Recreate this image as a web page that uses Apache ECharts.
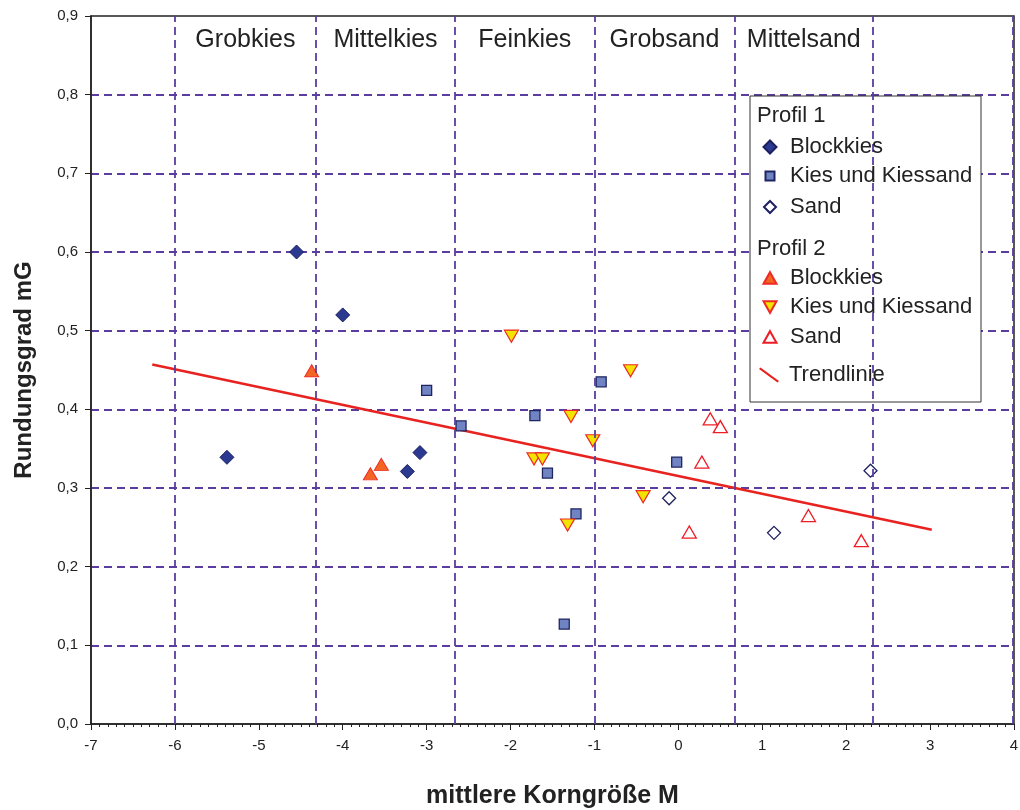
<!DOCTYPE html>
<html>
<head>
<meta charset="utf-8">
<script src="https://cdn.jsdelivr.net/npm/echarts@6/dist/echarts.min.js"></script>
<style>
html,body{margin:0;padding:0;background:#fff;}
#chart{width:1020px;height:810px;}
</style>
</head>
<body>
<div id="chart"></div>
<script>
// ---- data ----
const xTicks = [-7,-6,-5,-4,-3,-2,-1,0,1,2,3,4];
const yTicks = [0,0.1,0.2,0.3,0.4,0.5,0.6,0.7,0.8,0.9];
const zoneNames = ['Grobkies','Mittelkies','Feinkies','Grobsand','Mittelsand'];
const zoneBounds = [-6,-4.32,-2.66,-1,0.67,2.32,3.99];

const p1Blockkies = [[-4.55,0.60],[-4.00,0.52],[-5.38,0.339],[-3.08,0.345],[-3.23,0.321]];
const p1Kies = [[-3.00,0.424],[-2.59,0.379],[-1.71,0.392],[-0.92,0.435],[-1.56,0.319],[-1.22,0.267],[-1.36,0.127],[-0.02,0.333]];
const p1Sand = [[-0.11,0.287],[1.14,0.243],[2.29,0.322]];
const p2Blockkies = [[-4.37,0.449],[-3.54,0.330],[-3.67,0.318]];
const p2Kies = [[-1.99,0.493],[-0.57,0.449],[-1.28,0.391],[-1.02,0.360],[-1.72,0.337],[-1.62,0.337],[-0.42,0.289],[-1.32,0.253]];
const p2Sand = [[0.38,0.388],[0.50,0.378],[0.28,0.333],[0.13,0.244],[1.55,0.265],[2.18,0.233]];
const trend = [[-6.27,0.457],[3.02,0.247]];

const FONT = '"Liberation Sans", Arial, Helvetica, sans-serif';
const GRID = '#5B3DA0';
const DASH = [8,5];
const INV_TRI = 'path://M0,0 L10,0 L5,9 Z';
const TRI = 'path://M5,0 L10,9 L0,9 Z';

const chart = echarts.init(document.getElementById('chart'), null, {renderer:'canvas'});

// legend item: icon centred at x=769, text starting at x=790
function legendItem(name, cy, w, h, extra) {
  const left = 769 - w/2;
  const pad = 789 - (left + w + 5);
  return Object.assign({
    data: [name], left: left, top: cy - 11, padding: 0,
    itemWidth: w, itemHeight: h, selectedMode: false, z: 6,
    formatter: n => n.split(' | ')[1],
    textStyle: {fontFamily: FONT, fontSize: 22, color: '#222', lineHeight: 22, padding: [0, 0, 0, pad]}
  }, extra || {});
}

const option = {
  animation: false,
  backgroundColor: '#fff',
  grid: {left: 91, right: 6, top: 16, bottom: 86, containLabel: false, outerBoundsMode: 'none',
         show: true, borderColor: '#222', borderWidth: 1.5, backgroundColor: 'transparent'},
  xAxis: {
    type: 'value', min: xTicks[0], max: xTicks[xTicks.length-1], interval: 1,
    name: 'mittlere Korngröße M', nameLocation: 'middle', nameGap: 60,
    nameTextStyle: {fontFamily: FONT, fontSize: 25, fontWeight: 'bold', color: '#222'},
    axisLine: {show: true, onZero: false, lineStyle: {color: '#222', width: 1.5}},
    axisTick: {show: true, length: 6, lineStyle: {color: '#222'}},
    minorTick: {show: true, splitNumber: 10, length: 3, lineStyle: {color: '#222'}},
    axisLabel: {fontFamily: FONT, fontSize: 15, color: '#222', margin: 14, formatter: v => String(v)},
    splitLine: {show: false}
  },
  yAxis: {
    type: 'value', min: yTicks[0], max: yTicks[yTicks.length-1], interval: 0.1,
    name: 'Rundungsgrad mG', nameLocation: 'middle', nameGap: 55,
    nameTextStyle: {fontFamily: FONT, fontSize: 24, fontWeight: 'bold', color: '#222'},
    axisLine: {show: true, onZero: false, lineStyle: {color: '#222', width: 1.5}},
    axisTick: {show: true, length: 6, lineStyle: {color: '#222'}},
    axisLabel: {fontFamily: FONT, fontSize: 15, color: '#222', margin: 13, formatter: v => v.toFixed(1).replace('.', ',')},
    splitLine: {show: true, showMinLine: false, showMaxLine: false, lineStyle: {color: GRID, type: DASH, width: 1.8}}
  },
  legend: [
    legendItem('P1 | Blockkies', 147, 13, 13),
    legendItem('P1 | Kies und Kiessand', 176, 9, 9),
    legendItem('P1 | Sand', 207, 12, 12),
    legendItem('P2 | Blockkies', 278, 13, 12),
    legendItem('P2 | Kies und Kiessand', 307, 13, 12),
    legendItem('P2 | Sand', 337, 13, 12),
    legendItem('Trendlinie', 375, 20, 15, {formatter: n => n, icon: 'path://M0,1.5 L1.5,0 L20,13.5 L18.5,15 Z'})
  ],
  graphic: [
    {type: 'rect', z: 5, shape: {x: 750, y: 96, width: 231, height: 306}, style: {fill: '#fff', stroke: '#333', lineWidth: 1}},
    {type: 'text', z: 6, style: {x: 757, y: 116, text: 'Profil 1', fill: '#222', font: '22px ' + FONT, verticalAlign: 'middle', align: 'left'}},
    {type: 'text', z: 6, style: {x: 757, y: 249, text: 'Profil 2', fill: '#222', font: '22px ' + FONT, verticalAlign: 'middle', align: 'left'}}
  ],
  series: [
    {
      name: 'zones', type: 'scatter', data: [], silent: true,
      markArea: {
        silent: true,
        itemStyle: {color: 'rgba(0,0,0,0)'},
        label: {show: true, position: 'insideTop', distance: 12, fontFamily: FONT, fontSize: 25, color: '#222'},
        data: zoneNames.map((n, i) => [{name: n, xAxis: zoneBounds[i]}, {xAxis: zoneBounds[i+1]}])
      },
      markLine: {
        silent: true, symbol: 'none', label: {show: false},
        lineStyle: {color: GRID, type: DASH, width: 1.8},
        data: zoneBounds.map(v => ({xAxis: v}))
      }
    },
    {
      name: 'Trendlinie', type: 'line', data: trend, showSymbol: false, symbol: 'none', z: 3,
      color: '#E8221E', lineStyle: {color: '#E8221E', width: 2.5}, itemStyle: {color: '#E8221E'}
    },
    {
      name: 'P1 | Blockkies', type: 'scatter', data: p1Blockkies, symbol: 'diamond', symbolSize: 14, z: 4,
      itemStyle: {color: '#2B3990', borderColor: '#1B1F5E', borderWidth: 1, opacity: 1}
    },
    {
      name: 'P1 | Kies und Kiessand', type: 'scatter', data: p1Kies, symbol: 'rect', symbolSize: 10, z: 4,
      itemStyle: {color: '#7084C4', borderColor: '#1E2560', borderWidth: 1.3, opacity: 1}
    },
    {
      name: 'P1 | Sand', type: 'scatter', data: p1Sand, symbol: 'diamond', symbolSize: 13, z: 4,
      itemStyle: {color: '#ffffff', borderColor: '#1E2060', borderWidth: 1.3, opacity: 1}
    },
    {
      name: 'P2 | Blockkies', type: 'scatter', data: p2Blockkies, symbol: TRI, symbolSize: [14, 12], z: 4,
      itemStyle: {color: '#F26522', borderColor: '#EE2A24', borderWidth: 1, opacity: 1}
    },
    {
      name: 'P2 | Kies und Kiessand', type: 'scatter', data: p2Kies, symbol: INV_TRI, symbolSize: [14, 12], z: 4,
      itemStyle: {color: '#F2E400', borderColor: '#EE2A24', borderWidth: 1.2, opacity: 1}
    },
    {
      name: 'P2 | Sand', type: 'scatter', data: p2Sand, symbol: TRI, symbolSize: [14, 12], z: 4,
      itemStyle: {color: '#ffffff', borderColor: '#EE1C25', borderWidth: 1.3, opacity: 1}
    }
  ]
};
chart.setOption(option);
</script>
</body>
</html>
